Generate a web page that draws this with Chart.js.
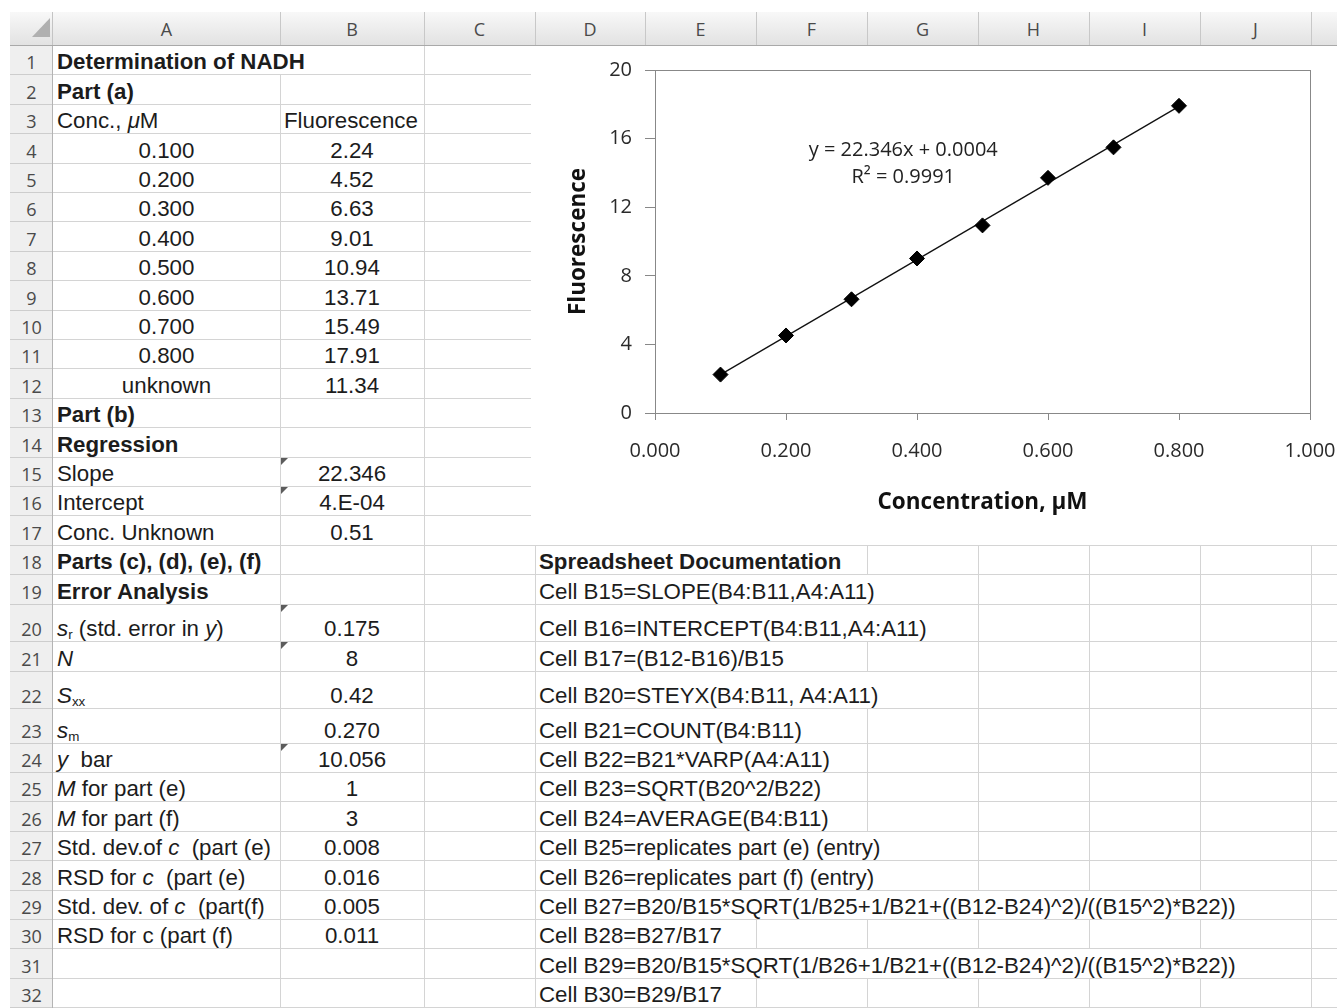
<!DOCTYPE html>
<html><head><meta charset="utf-8">
<script src="https://cdn.jsdelivr.net/npm/chart.js@4.4.1/dist/chart.umd.min.js"></script>
<style>
html,body{margin:0;padding:0;background:#fff;}
#sheet{position:relative;width:1337px;height:1008px;overflow:hidden;background:#fff;font-family:"Liberation Sans",Arial,sans-serif;}
.hl{position:absolute;height:1px;background:#d4d4d4;}
.vl{position:absolute;width:1px;background:#d4d4d4;}
.cell{position:absolute;white-space:nowrap;font-size:22.3px;line-height:25px;color:#1c1c1c;display:flex;align-items:flex-end;}
.cell span{white-space:pre;}
.hdr{position:absolute;font-family:"Open Sans",sans-serif;font-size:18px;color:#4a4a4a;display:flex;justify-content:center;white-space:nowrap;}
.tri{position:absolute;width:0;height:0;border-top:7px solid #5c5c5c;border-right:7px solid transparent;}
sub{font-size:60%;line-height:0;vertical-align:-3px;}
#chartBox{position:absolute;left:531px;top:46px;width:806px;height:499px;background:#fff;}
</style></head>
<body>
<div id="sheet"><div id="chartBox"><canvas id="chart" width="806" height="499"></canvas></div></div>
<script>
// ---------------- data ----------------
const concentrations = [0.100, 0.200, 0.300, 0.400, 0.500, 0.600, 0.700, 0.800];
const fluorescence = [2.24, 4.52, 6.63, 9.01, 10.94, 13.71, 15.49, 17.91];
const unknownFluorescence = 11.34;
const trendX = [0.100, 0.800];
const trendY = [2.235, 17.877];
const xTicks = [0, 0.2, 0.4, 0.6, 0.8, 1.0];
const yTicks = [0, 4, 8, 12, 16, 20];
const equationLines = ['y = 22.346x + 0.0004', 'R\u00B2 = 0.9991'];
const regressionLabels = ['Slope', 'Intercept', 'Conc. Unknown'];
const regressionValues = ['22.346', '4.E-04', '0.51'];
const errorLabels = [
  '<i>s</i><sub>r</sub> (std. error in <i>y</i>)', '<i>N</i>', '<i>S</i><sub>xx</sub>', '<i>s</i><sub>m</sub>',
  '<i>y</i>  bar', '<i>M</i> for part (e)', '<i>M</i> for part (f)', 'Std. dev.of <i>c</i>  (part (e)',
  'RSD for <i>c</i>  (part (e)', 'Std. dev. of <i>c</i>  (part(f)', 'RSD for c (part (f)'
];
const errorValues = ['0.175', '8', '0.42', '0.270', '10.056', '1', '3', '0.008', '0.016', '0.005', '0.011'];
const docLines = [
  'Cell B15=SLOPE(B4:B11,A4:A11)', 'Cell B16=INTERCEPT(B4:B11,A4:A11)', 'Cell B17=(B12-B16)/B15',
  'Cell B20=STEYX(B4:B11, A4:A11)', 'Cell B21=COUNT(B4:B11)', 'Cell B22=B21*VARP(A4:A11)',
  'Cell B23=SQRT(B20^2/B22)', 'Cell B24=AVERAGE(B4:B11)', 'Cell B25=replicates part (e) (entry)',
  'Cell B26=replicates part (f) (entry)', 'Cell B27=B20/B15*SQRT(1/B25+1/B21+((B12-B24)^2)/((B15^2)*B22))',
  'Cell B28=B27/B17', 'Cell B29=B20/B15*SQRT(1/B26+1/B21+((B12-B24)^2)/((B15^2)*B22))', 'Cell B30=B29/B17'
];
const flaggedCells = [15, 16, 20, 21, 24];

// ---------------- sheet ----------------
const sheet = document.getElementById('sheet');
const colEdges = [53, 280, 424, 535, 645, 756, 867, 978, 1089, 1200, 1311, 1422];
const colLetters = ['A','B','C','D','E','F','G','H','I','J','K'];
const rowH = [];
for (let r = 1; r <= 32; r++) rowH.push(r === 20 ? 37 : r === 21 ? 30 : r === 22 ? 37 : r === 23 ? 35 : 29.4);
const rowEdge = [45];
for (let i = 0; i < 32; i++) rowEdge.push(rowEdge[i] + rowH[i]);
const rTop = r => Math.round(rowEdge[r - 1]);
const rBot = r => Math.round(rowEdge[r]);
function el(cls, css, html) {
  const d = document.createElement('div'); d.className = cls;
  Object.assign(d.style, css); if (html !== undefined) d.innerHTML = html;
  sheet.insertBefore(d, document.getElementById('chartBox')); return d;
}
const cells = [];
const put = (r, col, html, align) => cells.push({r, c: colLetters.indexOf(col), html, align});
put(1, 'A', '<b>Determination of NADH</b>', 'l');
put(2, 'A', '<b>Part (a)</b>', 'l');
put(3, 'A', 'Conc., <i>\u03BC</i>M', 'l');
put(3, 'B', 'Fluorescence', 'l');
concentrations.forEach((c, i) => { put(4 + i, 'A', c.toFixed(3), 'c'); put(4 + i, 'B', fluorescence[i].toFixed(2), 'c'); });
put(12, 'A', 'unknown', 'c'); put(12, 'B', unknownFluorescence.toFixed(2), 'c');
put(13, 'A', '<b>Part (b)</b>', 'l');
put(14, 'A', '<b>Regression</b>', 'l');
regressionLabels.forEach((t, i) => { put(15 + i, 'A', t, 'l'); put(15 + i, 'B', regressionValues[i], 'c'); });
put(18, 'A', '<b>Parts (c), (d), (e), (f)</b>', 'l');
put(19, 'A', '<b>Error Analysis</b>', 'l');
errorLabels.forEach((t, i) => { put(20 + i, 'A', t, 'l'); put(20 + i, 'B', errorValues[i], 'c'); });
put(18, 'D', '<b>Spreadsheet Documentation</b>', 'l');
docLines.forEach((t, i) => put(19 + i, 'D', t, 'l'));

const hidden = {};
cells.forEach(o => {
  const left = colEdges[o.c], w = colEdges[o.c + 1] - left;
  const css = {top: rTop(o.r) + 'px', height: (rBot(o.r) - rTop(o.r)) + 'px'};
  if (o.align === 'c') { css.left = left + 'px'; css.width = w + 'px'; css.justifyContent = 'center'; }
  else { css.left = (left + 4) + 'px'; }
  const d = el('cell', css, '<span>' + o.html + '</span>');
  if (o.align === 'l') {
    const end = left + 4 + d.offsetWidth;
    for (let k = o.c + 1; k < colEdges.length && colEdges[k] < end; k++) hidden[o.r + ':' + k] = 1;
  }
});
// grid lines
for (let r = 1; r <= 32; r++) {
  el('hl', {left: '53px', width: '1290px', top: rBot(r) + 'px'});
  for (let k = 1; k < colEdges.length; k++) {
    if (hidden[r + ':' + k]) continue;
    el('vl', {left: colEdges[k] + 'px', top: rTop(r) + 'px', height: (rBot(r) - rTop(r)) + 'px'});
  }
}
flaggedCells.forEach(r => el('tri', {left: (colEdges[1] + 1) + 'px', top: (rTop(r) + 1) + 'px'}));

// headers (on top of everything)
function over(cls, css, html) { const d = document.createElement('div'); d.className = cls; Object.assign(d.style, css); if (html !== undefined) d.innerHTML = html; sheet.appendChild(d); return d; }
over('', {position:'absolute', left:'10px', top:'12px', width:'1327px', height:'33px', background:'linear-gradient(#f8f8f8,#e2e2e2)', borderBottom:'1px solid #a9a9a9'});
over('', {position:'absolute', left:'10px', top:'46px', width:'42px', height:'962px', background:'#efefef', borderRight:'1px solid #b4b4b4'});
over('', {position:'absolute', left:'32px', top:'18px', width:'0', height:'0', borderLeft:'18px solid transparent', borderBottom:'19px solid #b0b0b0'});
over('', {position:'absolute', left:'52px', top:'12px', width:'1px', height:'33px', background:'#c4c4c4'});
for (let k = 0; k < colLetters.length; k++) {
  over('', {position:'absolute', left: colEdges[k + 1] + 'px', top: '12px', width: '1px', height: '33px', background: '#c8c8c8'});
  over('hdr', {left: colEdges[k] + 'px', width: (colEdges[k + 1] - colEdges[k]) + 'px', top: '12px', height: '33px', alignItems: 'center'}, colLetters[k]);
}
for (let r = 1; r <= 32; r++) {
  over('', {position:'absolute', left:'10px', top: rBot(r) + 'px', width:'42px', height:'1px', background:'#cdcdcd'});
  over('hdr', {left:'10px', width:'43px', top: rTop(r) + 'px', height: (rBot(r) - rTop(r)) + 'px', alignItems:'flex-end', lineHeight:'24px'}, String(r));
}

// ---------------- chart ----------------
const plotFrame = {
  id: 'plotFrame',
  beforeDatasetsDraw(chart) {
    const {ctx, chartArea: a} = chart;
    ctx.save(); ctx.strokeStyle = '#888888'; ctx.lineWidth = 1;
    ctx.strokeRect(Math.round(a.left) + 0.5, Math.round(a.top) + 0.5, Math.round(a.right - a.left), Math.round(a.bottom - a.top));
    ctx.restore();
  },
  afterDatasetsDraw(chart) {
    const {ctx, scales} = chart;
    ctx.save(); ctx.fillStyle = '#222'; ctx.font = '20px "Open Sans"'; ctx.textAlign = 'center'; ctx.textBaseline = 'middle';
    const x = scales.x.getPixelForValue(0.379);
    ctx.fillText(equationLines[0], x, scales.y.getPixelForValue(15.33));
    ctx.fillText(equationLines[1], x, scales.y.getPixelForValue(13.75));
    ctx.restore();
  }
};
Chart.defaults.font.family = '"Open Sans"';
new Chart(document.getElementById('chart'), {
  type: 'scatter',
  data: {
    datasets: [
      {data: concentrations.map((c, i) => ({x: c, y: fluorescence[i]})), pointStyle: 'rectRot', pointRadius: 7.5,
       backgroundColor: '#000', borderColor: '#000', borderWidth: 1, showLine: false},
      {data: trendX.map((x, i) => ({x, y: trendY[i]})), showLine: true, pointRadius: 0, borderColor: '#111', borderWidth: 1.3}
    ]
  },
  options: {
    responsive: false, animation: false,
    layout: {padding: {top: 24, right: 27, left: 0, bottom: 0}},
    plugins: {legend: {display: false}, tooltip: {enabled: false}},
    scales: {
      x: {
        type: 'linear', min: 0, max: 1,
        afterBuildTicks: s => { s.ticks = xTicks.map(v => ({value: v})); },
        afterFit: s => { s.height = 132; s.paddingLeft = 0; s.paddingRight = 0; },
        ticks: {callback: v => Number(v).toFixed(3), color: '#2a2a2a', font: {size: 20}, padding: 19, maxRotation: 0, autoSkip: false},
        grid: {display: true, drawOnChartArea: false, drawTicks: true, tickLength: 7, color: '#888888'},
        border: {display: false},
        title: {display: true, text: 'Concentration, \u00B5M', color: '#111', font: {size: 22.5, weight: 'bold'}, padding: {top: 0, bottom: 29}}
      },
      y: {
        type: 'linear', min: 0, max: 20,
        afterBuildTicks: s => { s.ticks = yTicks.map(v => ({value: v})); },
        afterFit: s => { s.width = 124; s.paddingTop = 0; s.paddingBottom = 0; },
        ticks: {color: '#2a2a2a', font: {size: 20}, padding: 13},
        grid: {display: true, drawOnChartArea: false, drawTicks: true, tickLength: 10, color: '#888888'},
        border: {display: false},
        title: {display: true, text: 'Fluorescence', color: '#111', font: {size: 22.5, weight: 'bold'}, padding: {top: 34, bottom: 0}}
      }
    }
  },
  plugins: [plotFrame]
});
</script>
</body></html>
